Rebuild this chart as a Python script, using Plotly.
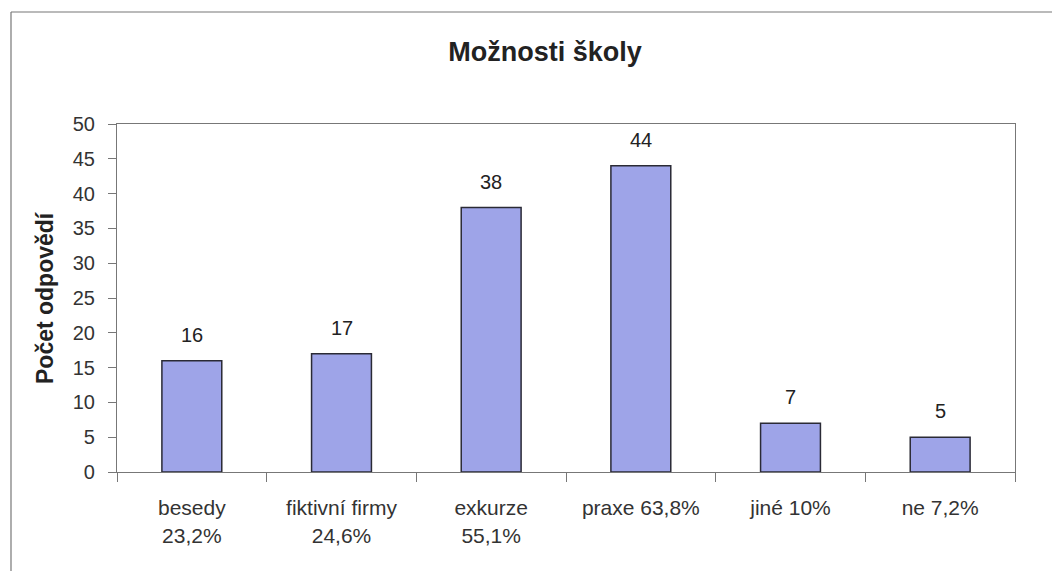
import plotly.graph_objects as go

categories = ["besedy<br>23,2%", "fiktivní firmy<br>24,6%", "exkurze<br>55,1%",
              "praxe 63,8%", "jiné 10%", "ne 7,2%"]
values = [16, 17, 38, 44, 7, 5]
y_ticks = [0, 5, 10, 15, 20, 25, 30, 35, 40, 45, 50]

# page has an 8px body margin; the figure is sized so the plot area sits where the reference has it
OFF = 8
W, H = 1052, 563
L, R, T, B = 109, 45, 116, 99
pw, ph = W - L - R, H - T - B
FONT = "Liberation Sans, Arial"

def px_x(x):  # page pixel -> paper x
    return (x - OFF - L) / pw

def px_y(y):  # page pixel -> paper y
    return (H - B - (y - OFF)) / ph

fig = go.Figure(go.Bar(
    x=categories, y=values,
    marker=dict(color="#9ea4e8", line=dict(color="#2a2a35", width=1.5)),
    hoverinfo="x+y",
))

for c, v in zip(categories, values):
    fig.add_annotation(x=c, y=v, text=str(v), showarrow=False, yanchor="bottom", yshift=13,
                       font=dict(family=FONT, size=20, color="#222"))

fig.add_annotation(xref="paper", yref="paper", x=px_x(45), y=px_y(298), text="<b>Počet odpovědí</b>",
                   textangle=-90, showarrow=False, xanchor="center", yanchor="middle",
                   font=dict(family=FONT, size=23, color="#222"))

fig.update_layout(
    width=W, height=H,
    margin=dict(l=L, r=R, t=T, b=B),
    paper_bgcolor="white", plot_bgcolor="white",
    bargap=0.6,
    showlegend=False,
    title=dict(text="<b>Možnosti školy</b>", x=(545 - OFF) / W, xanchor="center",
               y=1 - (52 - OFF) / H, yanchor="middle",
               font=dict(family=FONT, size=27, color="#222")),
    font=dict(family=FONT, size=20, color="#333"),
    shapes=[
        dict(type="line", xref="paper", yref="paper", x0=px_x(11), x1=px_x(1075), y0=px_y(12), y1=px_y(12),
             line=dict(color="#777", width=1.2)),
        dict(type="line", xref="paper", yref="paper", x0=px_x(11), x1=px_x(11), y0=px_y(12), y1=px_y(590),
             line=dict(color="#777", width=1.2)),
    ],
)
fig.update_xaxes(
    type="category", tickson="boundaries", ticks="outside", ticklen=9, tickcolor="#777",
    showline=True, linecolor="#777", linewidth=1.2, mirror=True, showgrid=False,
    ticklabelstandoff=17,
    tickfont=dict(family=FONT, size=21, color="#333"),
)
fig.update_yaxes(
    range=[0, 50], tickvals=y_ticks, ticks="outside", ticklen=8, tickcolor="#777",
    showline=True, linecolor="#777", linewidth=1.2, mirror=True, showgrid=False, zeroline=False,
    ticklabelstandoff=9,
    tickfont=dict(family=FONT, size=20, color="#333"),
)

fig.write_html("out.html")
